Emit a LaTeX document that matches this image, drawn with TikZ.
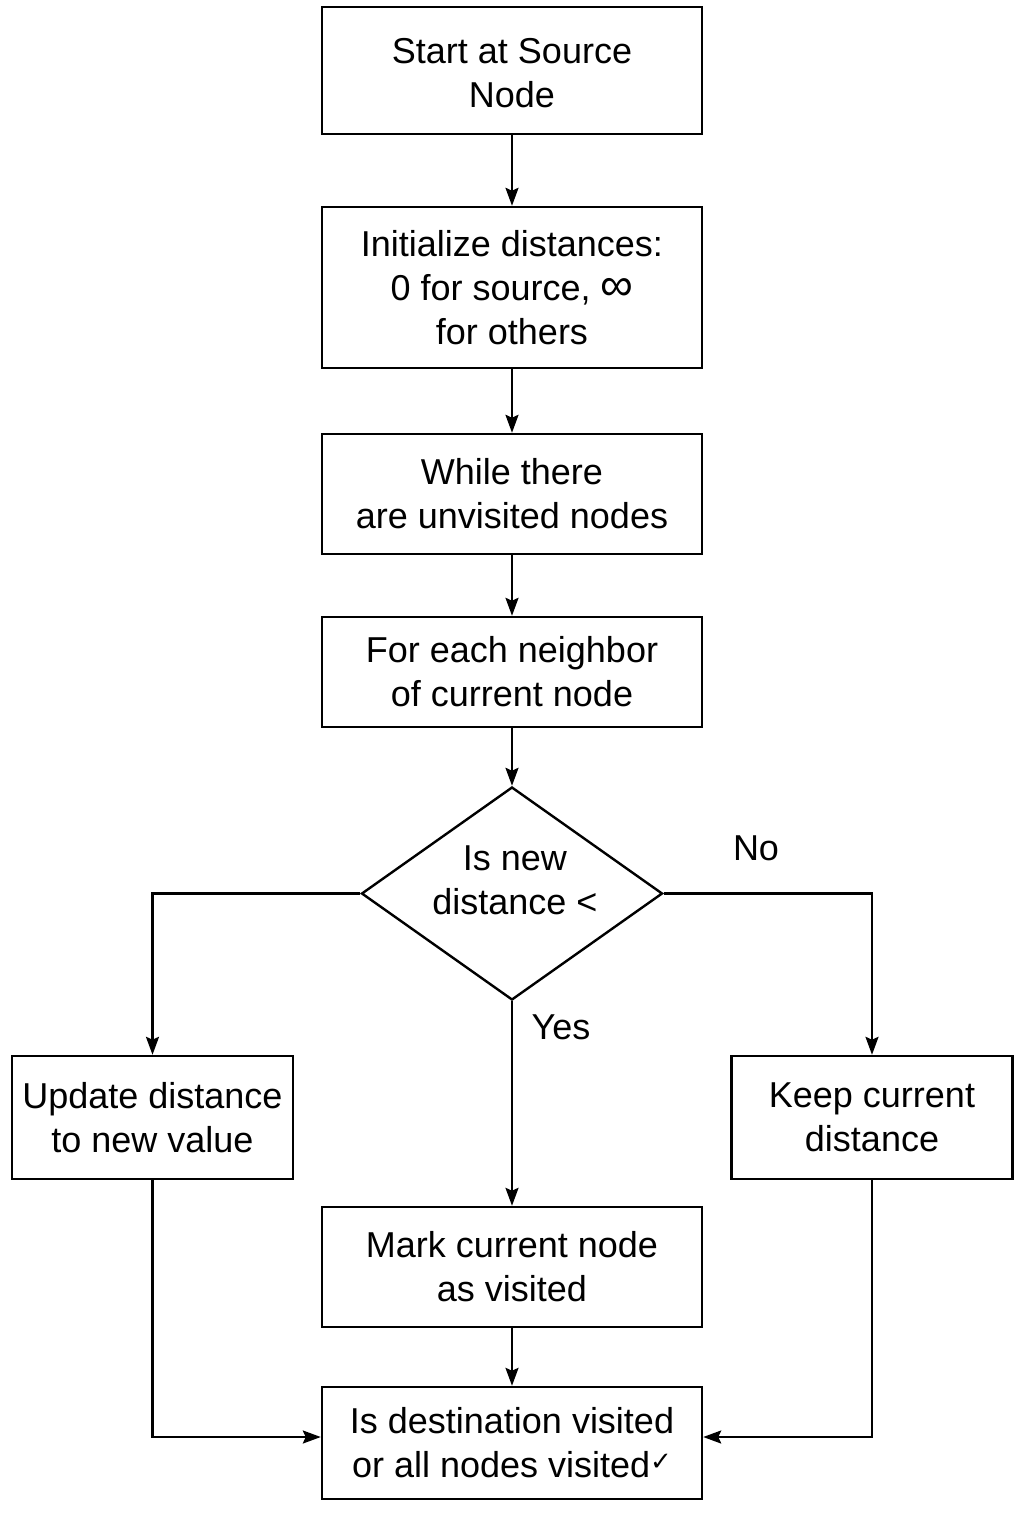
\documentclass[tikz,border=0pt]{standalone}
\usepackage{fontspec}
\setmainfont{Liberation Sans}
\newfontfamily\dejavu{DejaVu Sans}
\usetikzlibrary{shapes.geometric,arrows.meta}
\begin{document}
\begin{tikzpicture}[x=1pt,y=-1pt,
  box/.style={draw,line width=2.4pt,rectangle,minimum width=380pt,inner sep=0pt,align=center,font=\fontsize{36}{44}\selectfont},
  side/.style={box,minimum width=281pt,minimum height=123pt},
  lbl/.style={font=\fontsize{36}{44}\selectfont,inner sep=0pt},
  arr/.style={line width=2.4pt,-{Stealth[length=18pt,width=13pt,inset=3pt]}},
  ln/.style={line width=2.4pt}]
\useasboundingbox (0,0) rectangle (1024,1536);
\fill[white] (0,0) rectangle (1024,1536);
\node[box,minimum height=127pt] (start) at (512,70.5) {\strut Start at Source\\Node};
\node[box,minimum height=161pt] (init) at (512,287.5) {Initialize distances:\\0 for source, {\fontsize{46}{44}\selectfont ∞}\\for others};
\node[box,minimum height=120pt] (while) at (512,494) {While there\\ are unvisited nodes};
\node[box,minimum height=110pt] (each) at (512,672) {For each neighbor\\of current node};
\node[draw,line width=2.4pt,diamond,minimum width=301pt,minimum height=213pt,inner sep=0pt] (dec) at (512,893.5) {};
\node[lbl,align=center] (dectext) at (515,880) {Is new\\distance <};
\node[side] (upd) at (152.5,1117.5) {Update distance\\to new value};
\node[side] (keep) at (872,1117.5) {Keep current\\distance};
\node[box,minimum height=120pt] (mark) at (512,1267) {Mark current node\\as visited};
\node[box,minimum height=112pt] (dest) at (512,1443) {Is destination visited\\or all nodes visited{\dejavu\fontsize{26}{26}\selectfont\raisebox{7pt}{✓}}};
\node[lbl] (no) at (756,848) {No};
\node[lbl] (yes) at (561,1027) {Yes};
\coordinate (dw) at ([yshift=6pt]dest.west);
\coordinate (de) at ([yshift=6pt]dest.east);
\draw[arr] (start) -- (init);
\draw[arr] (init) -- (while);
\draw[arr] (while) -- (each);
\draw[arr] (each) -- (dec);
\draw[arr] (dec.west) -| (upd.north);
\draw[arr] (dec.east) -| (keep.north);
\draw[arr] (dec.south) -- (mark.north);
\draw[arr] (mark) -- (dest);
\draw[arr] (upd.south) |- (dw);
\draw[arr] (keep.south) |- (de);
\end{tikzpicture}
\end{document}
